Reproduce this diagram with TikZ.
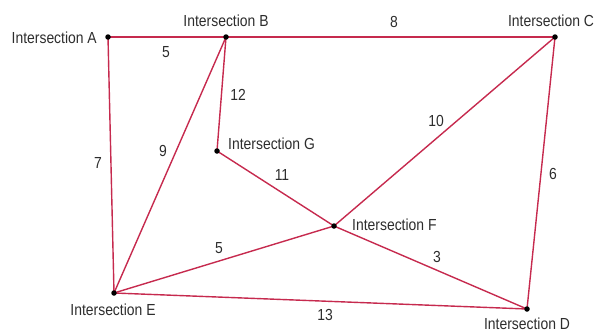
\documentclass[tikz,border=0pt]{standalone}
\usepackage{fontspec}
\setmainfont{Liberation Sans}[FakeStretch=0.87]
\definecolor{roadred}{RGB}{198,42,78}
\definecolor{txtgray}{RGB}{45,45,45}
\tikzset{
  junction/.style={circle,fill=black,inner sep=0pt,minimum size=5.5pt},
  road/.style={draw=roadred,line width=1.4pt},
  place/.style={inner sep=0pt,text=txtgray,font=\fontsize{16}{18}\selectfont},
  weight/.style={inner sep=0pt,text=txtgray,font=\fontsize{16}{18}\selectfont}
}
\begin{document}
\begin{tikzpicture}[x=1pt,y=-1pt]
\useasboundingbox (0,0) rectangle (600,332);
% junction points
\coordinate (A) at (108,37);
\coordinate (B) at (226,37);
\coordinate (C) at (555,37);
\coordinate (G) at (217,151);
\coordinate (F) at (334,226);
\coordinate (E) at (114,293);
\coordinate (D) at (527,309);
% roads
\draw[road] (A) -- (B);
\draw[road] (B) -- (C);
\draw[road] (A) -- (E);
\draw[road] (B) -- (E);
\draw[road] (B) -- (G);
\draw[road] (G) -- (F);
\draw[road] (C) -- (F);
\draw[road] (C) -- (D);
\draw[road] (E) -- (F);
\draw[road] (F) -- (D);
\draw[road] (E) -- (D);
% dots
\node[junction] (dA) at (A) {};
\node[junction] (dB) at (B) {};
\node[junction] (dC) at (C) {};
\node[junction] (dG) at (G) {};
\node[junction] (dF) at (F) {};
\node[junction] (dE) at (E) {};
\node[junction] (dD) at (D) {};
% names
\node[place,anchor=east] (tA) at (97,37.5) {Intersection A};
\node[place] (tB) at (226,21) {Intersection B};
\node[place] (tC) at (551,21) {Intersection C};
\node[place,anchor=west] (tG) at (228,143.5) {Intersection G};
\node[place,anchor=west] (tF) at (352,224.5) {Intersection F};
\node[place] (tE) at (113,310) {Intersection E};
\node[place] (tD) at (527,323.5) {Intersection D};
% weights
\node[weight] (wAB) at (166,52) {5};
\node[weight] (wBC) at (394,22) {8};
\node[weight] (wBG) at (238,95) {12};
\node[weight] (wBE) at (163,151) {9};
\node[weight] (wAE) at (98,163) {7};
\node[weight] (wCF) at (436,121) {10};
\node[weight] (wGF) at (282,175) {11};
\node[weight] (wCD) at (553,174) {6};
\node[weight] (wEF) at (219,248) {5};
\node[weight] (wFD) at (437,257) {3};
\node[weight] (wED) at (325,315) {13};
\end{tikzpicture}
\end{document}
